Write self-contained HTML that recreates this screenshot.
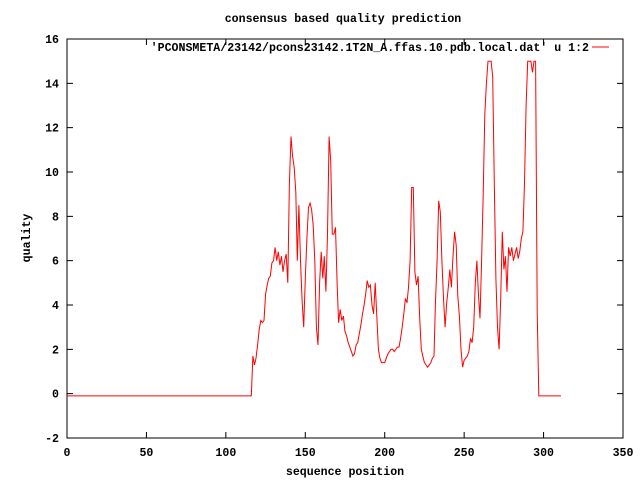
<!DOCTYPE html>
<html><head><meta charset="utf-8"><style>
body{margin:0;background:#fff}
svg text{font-family:"Liberation Mono",monospace;font-size:11.6px;font-weight:bold;fill:#000}
</style></head><body>
<svg id="chart" width="640" height="480" xmlns="http://www.w3.org/2000/svg">
<rect width="640" height="480" fill="#fff"/>
<text x="343" y="22" text-anchor="middle">consensus based quality prediction</text>
<text x="345" y="475" text-anchor="middle">sequence position</text>
<text transform="translate(30,238) rotate(-90)" text-anchor="middle">quality</text>
<g id="axes"></g>
<g id="series"></g>
<text x="589" y="51" text-anchor="end">'PCONSMETA/23142/pcons23142.1T2N_A.ffas.10.pdb.local.dat' u 1:2</text>
<line x1="592" y1="47" x2="609" y2="47" stroke="#f00" stroke-width="1"/>
</svg>
<script>
const xTicks=[0,50,100,150,200,250,300,350];
const yTicks=[-2,0,2,4,6,8,10,12,14,16];
const posX=[0,116,117,118,119,120,121,122,123,124,125,126,127,128,129,130,131,132,133,134,135,136,137,138,139,140,141,142,143,144,145,146,147,148,149,150,151,152,153,154,155,156,157,158,159,160,161,162,163,164,165,166,167,168,169,170,171,172,173,174,175,176,177,178,179,180,181,182,183,184,185,186,187,188,189,190,191,192,193,194,195,196,197,198,199,200,201,202,203,204,205,206,207,208,209,210,211,212,213,214,215,216,217,218,219,220,221,222,223,224,225,226,227,228,229,230,231,232,233,234,235,236,237,238,239,240,241,242,243,244,245,246,247,248,249,250,251,252,253,254,255,256,257,258,259,260,261,262,263,264,265,266,267,268,269,270,271,272,273,274,275,276,277,278,279,280,281,282,283,284,285,286,287,288,289,290,291,292,293,294,295,296,297,311];
const quality=[-0.1,-0.1,1.7,1.3,1.6,2.2,2.9,3.3,3.2,3.3,4.5,4.9,5.2,5.3,5.9,6.0,6.6,6.0,6.4,5.8,6.2,5.5,6.0,6.3,5.0,9.5,11.6,10.7,10.2,9.1,6.0,8.5,6.0,4.2,3.0,5.2,7.0,8.4,8.6,8.3,7.6,6.0,3.0,2.2,5.0,6.4,5.2,6.2,4.6,7.2,11.6,10.5,7.2,7.2,7.5,5.0,3.2,3.8,3.3,3.5,2.8,2.6,2.3,2.1,1.9,1.7,1.8,2.2,2.3,2.7,3.1,3.6,4.0,4.5,5.1,4.8,4.9,4.0,3.6,5.0,3.5,2.0,1.6,1.4,1.4,1.4,1.6,1.8,1.9,2.0,2.0,1.9,2.0,2.1,2.1,2.5,3.0,3.6,4.3,4.1,4.8,6.0,9.3,9.3,5.5,4.9,5.3,3.4,2.0,1.7,1.4,1.3,1.2,1.3,1.4,1.6,1.7,4.2,6.0,8.7,8.2,6.0,4.3,3.0,4.1,4.8,5.6,4.8,6.2,7.3,6.7,4.4,3.5,2.0,1.2,1.5,1.6,1.7,1.9,2.5,2.3,3.0,5.0,6.0,4.5,3.4,6.0,9.0,12.6,14.0,15,15,15,14.3,9.5,5.2,3.0,2.0,4.3,7.3,5.6,6.2,4.6,6.6,6.2,6.6,6.0,6.3,6.6,6.1,6.4,7.0,7.3,9.5,13.0,15,15,15,14.5,15,15,3.7,-0.1,-0.1];
const L=67,R=623,T=39,B=438,xMin=0,xMax=350,yMin=-2,yMax=16;
const sx=v=>L+(v-xMin)/(xMax-xMin)*(R-L);
const sy=v=>B-(v-yMin)/(yMax-yMin)*(B-T);
const NS='http://www.w3.org/2000/svg';
const axes=document.getElementById('axes');
function mk(tag,attrs,parent){const e=document.createElementNS(NS,tag);for(const k in attrs)e.setAttribute(k,attrs[k]);parent.appendChild(e);return e;}
const frame=mk('rect',{x:L,y:T,width:R-L,height:B-T,fill:'none',stroke:'#000','stroke-width':1},axes);


xTicks.forEach(t=>{const x=sx(t);
 const a=mk('path',{d:`M${x},${B}v-6M${x},${T}v6`,stroke:'#000','stroke-width':1},axes);
 
 
 const tx=mk('text',{x:x,y:B+18,'text-anchor':'middle'},axes);tx.textContent=t;
 
 
});
yTicks.forEach(t=>{const y=sy(t);
 const a=mk('path',{d:`M${L},${y}h6M${R},${y}h-6`,stroke:'#000','stroke-width':1},axes);
 
 
 const tx=mk('text',{x:L-8,y:y+4,'text-anchor':'end'},axes);tx.textContent=t;
 
 
});
const pts=posX.map((x,i)=>sx(x).toFixed(1)+','+sy(quality[i]).toFixed(1)).join(' ');
const line=mk('polyline',{points:pts,fill:'none',stroke:'#f00','stroke-width':1},document.getElementById('series'));


</script>
</body></html>
